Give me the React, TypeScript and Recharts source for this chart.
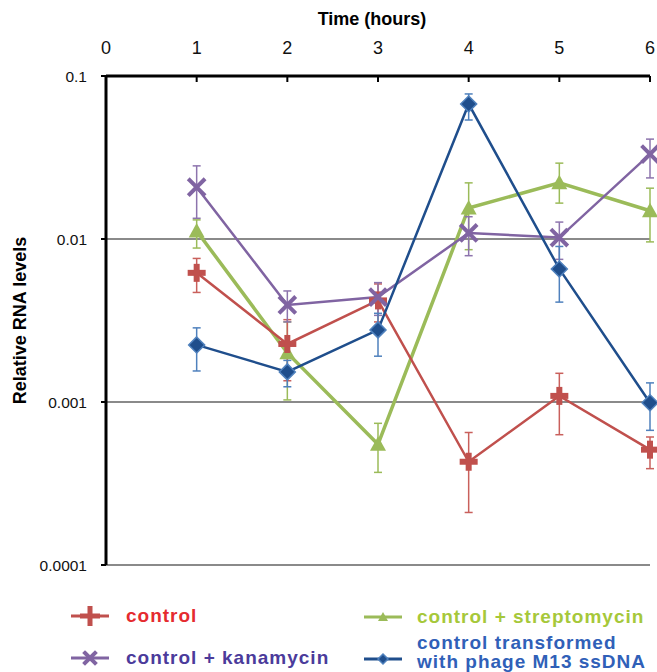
import React from "react";
import { ComposedChart, Line, XAxis, YAxis, CartesianGrid, ErrorBar } from "recharts";

// hours after start
const hours = [1, 2, 3, 4, 5, 6];
const xTicks = [0, 1, 2, 3, 4, 5, 6];
const yTicks = [0.0001, 0.001, 0.01, 0.1];

// values (mean, lower and upper end of the error bar)
const controlMean = [0.0062, 0.00227, 0.0042, 0.00043, 0.00109, 0.00051];
const controlLo = [0.0047, 0.00135, 0.0031, 0.00021, 0.00063, 0.00039];
const controlHi = [0.0076, 0.0032, 0.0053, 0.00065, 0.0015, 0.00061];

const kanaMean = [0.0208, 0.00394, 0.0044, 0.0109, 0.0102, 0.0332];
const kanaLo = [0.0134, 0.0031, 0.0034, 0.0079, 0.0075, 0.0237];
const kanaHi = [0.0281, 0.0048, 0.0054, 0.0137, 0.0127, 0.041];

const strepMean = [0.0112, 0.002, 0.00055, 0.0155, 0.0221, 0.0149];
const strepLo = [0.0088, 0.00103, 0.00037, 0.0086, 0.0166, 0.0096];
const strepHi = [0.0131, 0.0031, 0.00074, 0.0221, 0.0292, 0.0205];

const m13Mean = [0.00224, 0.00153, 0.00277, 0.0673, 0.00655, 0.00099];
const m13Lo = [0.00155, 0.00124, 0.00191, 0.0537, 0.0041, 0.00067];
const m13Hi = [0.00285, 0.0018, 0.0035, 0.0776, 0.009, 0.00131];

const data = hours.map((h, i) => ({
  hour: h,
  control: controlMean[i],
  controlErr: [controlMean[i] - controlLo[i], controlHi[i] - controlMean[i]],
  kana: kanaMean[i],
  kanaErr: [kanaMean[i] - kanaLo[i], kanaHi[i] - kanaMean[i]],
  strep: strepMean[i],
  strepErr: [strepMean[i] - strepLo[i], strepHi[i] - strepMean[i]],
  m13: m13Mean[i],
  m13Err: [m13Mean[i] - m13Lo[i], m13Hi[i] - m13Mean[i]],
}));

const RED = "#c0504d";
const PURPLE = "#8064a2";
const GREEN = "#9bbb59";
const NAVY = "#1f4e8c";
const LIGHTBLUE = "#4f81bd";

const font = "'Liberation Sans', Arial, sans-serif";

// markers
const Plus = ({ cx, cy, s = 9, t = 6 }: any) => (
  <g>
    <rect x={cx - s} y={cy - t / 2} width={s * 2} height={t} fill={RED} />
    <rect x={cx - t / 2} y={cy - s} width={t} height={s * 2} fill={RED} />
  </g>
);
const Cross = ({ cx, cy, s = 7 }: any) => (
  <g stroke={PURPLE} strokeWidth={4} strokeLinecap="square">
    <line x1={cx - s} y1={cy - s} x2={cx + s} y2={cy + s} />
    <line x1={cx - s} y1={cy + s} x2={cx + s} y2={cy - s} />
  </g>
);
const Tri = ({ cx, cy, s = 8 }: any) => (
  <polygon
    points={`${cx},${cy - s} ${cx + s},${cy + s * 0.8} ${cx - s},${cy + s * 0.8}`}
    fill={GREEN}
  />
);
const Diamond = ({ cx, cy, s = 8 }: any) => (
  <polygon
    points={`${cx},${cy - s} ${cx + s},${cy} ${cx},${cy + s} ${cx - s},${cy}`}
    fill={NAVY}
    stroke={LIGHTBLUE}
    strokeWidth={1.5}
  />
);

const dotPlus = (p: any) => <Plus key={p.index} cx={p.cx} cy={p.cy} />;
const dotCross = (p: any) => <Cross key={p.index} cx={p.cx} cy={p.cy} />;
const dotTri = (p: any) => <Tri key={p.index} cx={p.cx} cy={p.cy} />;
const dotDiamond = (p: any) => <Diamond key={p.index} cx={p.cx} cy={p.cy} />;

const LegendMark = ({ color, children }: any) => (
  <svg width={42} height={24} style={{ display: "block" }}>
    <line x1={2} y1={12} x2={40} y2={12} stroke={color} strokeWidth={3} />
    {children}
  </svg>
);

const legendText = {
  fontFamily: font,
  fontWeight: 700,
  fontSize: 19,
  letterSpacing: 1,
  lineHeight: "19px",
  position: "absolute" as const,
  whiteSpace: "nowrap" as const,
};

export default function App() {
  // placed at the page corner so nothing spills past the window
  return (
    <div style={{ position: "absolute", left: 0, top: 0, width: 657, height: 672, overflow: "hidden" }}>
      <ComposedChart
        width={657}
        height={672}
        data={data}
        margin={{ top: 0, right: 7, bottom: 107, left: 0 }}
      >
        <CartesianGrid horizontal vertical={false} stroke="#8a8a8a" strokeWidth={2} />
        <XAxis
          xAxisId={0}
          orientation="top"
          type="number"
          dataKey="hour"
          domain={[0, 6]}
          ticks={xTicks}
          height={76}
          axisLine={{ stroke: "#000", strokeWidth: 3 }}
          tickLine={{ stroke: "#000", strokeWidth: 2 }}
          tickSize={-6}
          tickMargin={28}
          tick={{ fill: "#111", fontSize: 18, fontFamily: font }}
          label={{
            value: "Time (hours)",
            position: "insideTop",
            offset: 12,
            dx: -6,
            style: { fill: "#000", fontSize: 18, fontWeight: 700, fontFamily: font },
          }}
        />
        <YAxis
          yAxisId={0}
          scale="log"
          type="number"
          domain={[0.0001, 0.1]}
          allowDataOverflow
          ticks={yTicks}
          width={106}
          tickFormatter={(v: number) => String(v)}
          axisLine={{ stroke: "#000", strokeWidth: 3 }}
          tickLine={{ stroke: "#000", strokeWidth: 2 }}
          tickSize={5}
          tickMargin={14}
          tick={{ fill: "#111", fontSize: 15.5, fontFamily: font }}
          label={{
            value: "Relative RNA levels",
            angle: -90,
            position: "insideLeft",
            offset: 20,
            style: { textAnchor: "middle", fill: "#000", fontSize: 18, fontWeight: 700, fontFamily: font },
          }}
        />
        <Line
          dataKey="strep"
          stroke={GREEN}
          strokeWidth={3.5}
          dot={dotTri}
          activeDot={false}
          isAnimationActive={false}
        >
          <ErrorBar dataKey="strepErr" stroke={GREEN} strokeWidth={1.5} width={4} direction="y" />
        </Line>
        <Line
          dataKey="control"
          stroke={RED}
          strokeWidth={2.5}
          dot={dotPlus}
          activeDot={false}
          isAnimationActive={false}
        >
          <ErrorBar dataKey="controlErr" stroke="#c9605c" strokeWidth={1.5} width={4} direction="y" />
        </Line>
        <Line
          dataKey="kana"
          stroke={PURPLE}
          strokeWidth={2.5}
          dot={dotCross}
          activeDot={false}
          isAnimationActive={false}
        >
          <ErrorBar dataKey="kanaErr" stroke="#8d74ad" strokeWidth={1.5} width={4} direction="y" />
        </Line>
        <Line
          dataKey="m13"
          stroke={NAVY}
          strokeWidth={2.5}
          dot={dotDiamond}
          activeDot={false}
          isAnimationActive={false}
        >
          <ErrorBar dataKey="m13Err" stroke={LIGHTBLUE} strokeWidth={1.5} width={4} direction="y" />
        </Line>
      </ComposedChart>

      {/* legend */}
      <div style={{ position: "absolute", left: 69, top: 604 }}>
        <LegendMark color={RED}>
          <Plus cx={21} cy={12} s={10} t={5} />
        </LegendMark>
      </div>
      <div style={{ ...legendText, left: 126, top: 606, color: "#e52b2f" }}>control</div>

      <div style={{ position: "absolute", left: 69, top: 646 }}>
        <LegendMark color={PURPLE}>
          <Cross cx={21} cy={12} s={5} />
        </LegendMark>
      </div>
      <div style={{ ...legendText, left: 126, top: 648, color: "#4b3b9b" }}>control + kanamycin</div>

      <div style={{ position: "absolute", left: 362, top: 605 }}>
        <LegendMark color={GREEN}>
          <Tri cx={21} cy={12} s={5} />
        </LegendMark>
      </div>
      <div style={{ ...legendText, left: 417, top: 607, color: "#a6c83a" }}>control + streptomycin</div>

      <div style={{ position: "absolute", left: 362, top: 647 }}>
        <LegendMark color={NAVY}>
          <Diamond cx={21} cy={12} s={5} />
        </LegendMark>
      </div>
      <div style={{ ...legendText, left: 417, top: 633, color: "#3060b8" }}>
        control transformed
        <br />
        with phage M13 ssDNA
      </div>
    </div>
  );
}
